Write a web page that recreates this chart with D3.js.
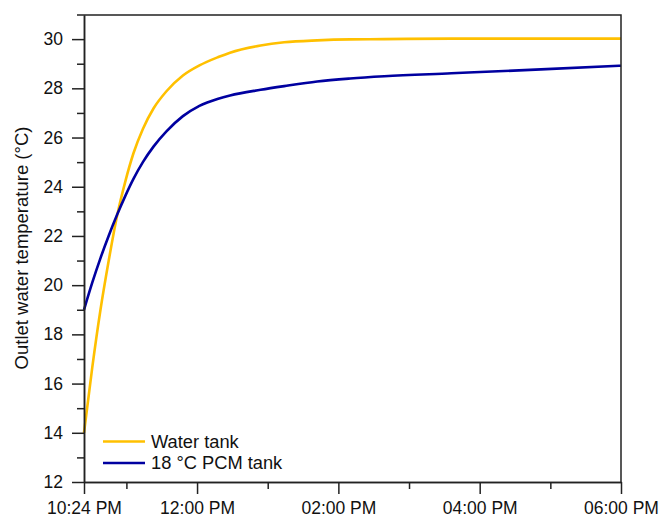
<!DOCTYPE html>
<html>
<head>
<meta charset="utf-8">
<script src="https://cdn.jsdelivr.net/npm/d3@7"></script>
<style>
    body { margin: 0; background: white; }
    svg { font-family: "Liberation Sans", Arial, sans-serif; }
</style>
</head>
<body>
<svg width="661" height="519"></svg>
<script>
// minutes after 10:24
var minutes = [0, 7, 14, 21, 28, 35, 42, 50, 59, 70, 84, 98, 114, 124, 150, 170, 198, 226, 255, 312, 388, 456];

var waterTank = [14.0, 16.65, 19.0, 21.0, 22.8, 24.2, 25.36, 26.35, 27.18, 27.88, 28.52, 28.93, 29.27, 29.45, 29.74, 29.87, 29.95, 29.99, 30.0, 30.02, 30.02, 30.02];

var pcmTank = [19.0, 20.1, 21.1, 22.01, 22.85, 23.62, 24.32, 25.0, 25.63, 26.25, 26.87, 27.29, 27.58, 27.71, 27.94, 28.09, 28.28, 28.4, 28.49, 28.61, 28.77, 28.92];

var xTickTimes = ["10:24", "12:00", "14:00", "16:00", "18:00"];
var xTickLabels = ["10:24 PM", "12:00 PM", "02:00 PM", "04:00 PM", "06:00 PM"];
var xMinorTimes = ["11:00", "13:00", "15:00", "17:00"];

var yTicks = [12, 14, 16, 18, 20, 22, 24, 26, 28, 30];
var yMinorTicks = [13, 15, 17, 19, 21, 23, 25, 27, 29];

var seriesNames = ["Water tank", "18 °C PCM tank"];
var seriesColors = ["#FFC000", "#0000A0"];

var parseTime = d3.timeParse("%H:%M");
var startTime = parseTime("10:24");

var plotLeft = 84, plotRight = 621, plotTop = 15, plotBottom = 482;

var xScale = d3.scaleTime()
    .domain([startTime, parseTime("18:00")])
    .range([plotLeft, plotRight]);
var yScale = d3.scaleLinear().domain([12, 30.98]).range([plotBottom, plotTop]);

var svg = d3.select("svg");

function toDate(m) {
    return d3.timeMinute.offset(startTime, m);
}

var line = d3.line()
    .x(d => xScale(toDate(d.t)))
    .y(d => yScale(d.v))
    .curve(d3.curveMonotoneX);

var series = [waterTank, pcmTank].map(vals => vals.map((v, i) => ({ t: minutes[i], v: v })));

// Curves
svg.selectAll("path.series")
    .data(series)
    .enter()
    .append("path")
    .attr("class", "series")
    .attr("d", d => line(d))
    .attr("fill", "none")
    .attr("stroke", (d, i) => seriesColors[i])
    .attr("stroke-width", 2.6);

var axisColor = "#222";

// X axis
svg.append("g")
    .attr("transform", "translate(0," + plotBottom + ")")
    .call(d3.axisBottom(xScale)
        .tickValues(xTickTimes.map(parseTime))
        .tickFormat((d, i) => xTickLabels[i])
        .tickSize(12)
        .tickPadding(8)
        .tickSizeOuter(0));

svg.append("g")
    .attr("transform", "translate(0," + plotBottom + ")")
    .call(d3.axisBottom(xScale)
        .tickValues(xMinorTimes.map(parseTime))
        .tickFormat("")
        .tickSize(7)
        .tickSizeOuter(0));

// Y axis
svg.append("g")
    .attr("transform", "translate(" + plotLeft + ",0)")
    .call(d3.axisLeft(yScale)
        .tickValues(yTicks)
        .tickSize(12)
        .tickPadding(9)
        .tickSizeOuter(0));

svg.append("g")
    .attr("transform", "translate(" + plotLeft + ",0)")
    .call(d3.axisLeft(yScale)
        .tickValues(yMinorTicks)
        .tickFormat("")
        .tickSize(7)
        .tickSizeOuter(0));

svg.selectAll(".tick text")
    .attr("font-size", 17.5)
    .attr("font-family", "'Liberation Sans', Arial, sans-serif")
    .attr("fill", "#111");

svg.selectAll(".domain, .tick line")
    .attr("stroke", axisColor)
    .attr("stroke-width", 1.5);

// Top and right border
svg.append("path")
    .attr("d", "M" + (plotLeft - 7) + "," + plotTop + "H" + plotRight + "V" + plotBottom)
    .attr("fill", "none")
    .attr("stroke", axisColor)
    .attr("stroke-width", 1.5);

// Y label
svg.append("text")
    .attr("transform", "translate(28,248) rotate(-90)")
    .attr("text-anchor", "middle")
    .attr("font-size", 18.5)
    .attr("fill", "#111")
    .text("Outlet water temperature (°C)");

// Legend
var legend = svg.selectAll("g.legend")
    .data(seriesNames)
    .enter()
    .append("g")
    .attr("class", "legend")
    .attr("transform", (d, i) => "translate(103," + (441.5 + i * 21.5) + ")");

legend.append("line")
    .attr("x1", 0)
    .attr("x2", 42)
    .attr("stroke", (d, i) => seriesColors[i])
    .attr("stroke-width", 2.6);

legend.append("text")
    .attr("x", 48)
    .attr("dy", "0.35em")
    .attr("font-size", 18.3)
    .attr("fill", "#111")
    .text(d => d);
</script>
</body>
</html>
